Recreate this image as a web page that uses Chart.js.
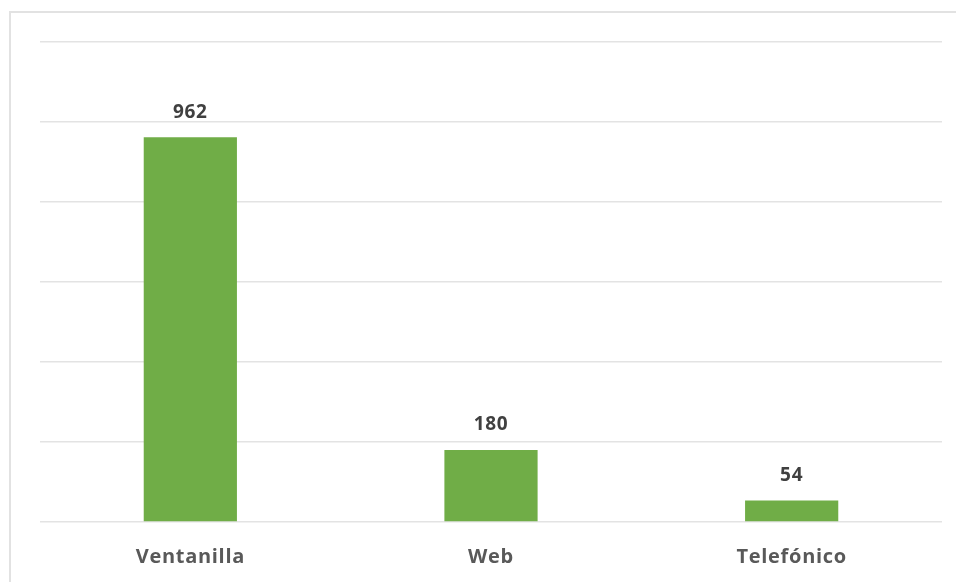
<!DOCTYPE html>
<html>
<head>
<meta charset="utf-8">
<script src="https://cdn.jsdelivr.net/npm/chart.js@4"></script>
<style>
  html, body { margin: 0; padding: 0; background: #fff; overflow: hidden; }
  #frame {
    position: absolute; left: 9px; top: 11px; width: 1000px; height: 620px;
    border: 2px solid #e2e2e2; box-sizing: border-box;
  }
  #wrap { position: absolute; left: 0; top: 0; width: 956px; height: 582px; }
</style>
</head>
<body>
<div id="frame"></div>
<div id="wrap"><canvas id="chart"></canvas></div>
<script>
// canales de atención
const categories = ["Ventanilla", "Web", "Telefónico"];
const counts = [962, 180, 54];
const yMax = 1200;
const yStep = 200;

// letras un poco separadas, como en el original
const spacing = {
  id: "spacing",
  beforeDraw(chart) {
    chart.ctx.letterSpacing = "0.7px";
  },
};

// etiquetas encima de cada barra
const valueLabels = {
  id: "valueLabels",
  afterDatasetsDraw(chart) {
    const ctx = chart.ctx;
    const meta = chart.getDatasetMeta(0);
    ctx.save();
    ctx.font = "bold 19px 'Open Sans'";
    ctx.fillStyle = "#404040";
    ctx.textAlign = "center";
    ctx.textBaseline = "middle";
    meta.data.forEach((bar, i) => {
      ctx.fillText(String(counts[i]), bar.x, bar.y - 25);
    });
    ctx.restore();
  },
};

const ctx = document.getElementById("chart");
const chart = new Chart(ctx, {
  type: "bar",
  data: {
    labels: categories,
    datasets: [
      {
        data: counts,
        backgroundColor: "#70ad47",
        barPercentage: 0.31,
        categoryPercentage: 1,
      },
    ],
  },
  options: {
    responsive: true,
    maintainAspectRatio: false,
    animation: false,
    layout: { padding: { left: 40, right: 14, top: 42, bottom: 0 } },
    plugins: {
      legend: { display: false },
      tooltip: { enabled: false },
    },
    scales: {
      x: {
        grid: { display: false, drawTicks: false },
        border: { display: false },
        ticks: {
          color: "#595959",
          font: { family: "'Open Sans'", size: 20, weight: "bold" },
          padding: 23,
        },
        afterFit: (s) => { s.height = 60; },
      },
      y: {
        min: 0,
        max: yMax,
        ticks: { display: false, stepSize: yStep },
        grid: { color: "#e3e3e3", lineWidth: 1.5, drawTicks: false },
        border: { display: false },
        afterFit: (s) => { s.width = 0; },
      },
    },
  },
  plugins: [spacing, valueLabels],
});
</script>
</body>
</html>
